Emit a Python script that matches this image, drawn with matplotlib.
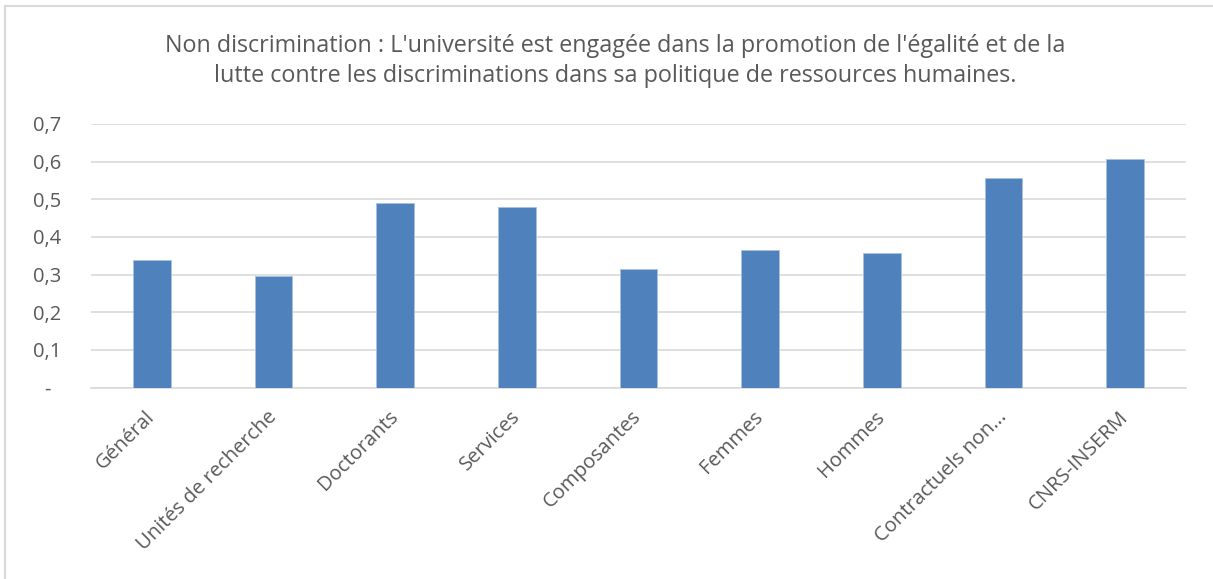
import matplotlib
matplotlib.use('Agg')
import matplotlib.pyplot as plt
from matplotlib.lines import Line2D
from matplotlib.transforms import ScaledTranslation
import numpy as np

plt.rcParams['font.family'] = ['Open Sans', 'DejaVu Sans']

categories = ['Général', 'Unités de recherche', 'Doctorants', 'Services', 'Composantes',
              'Femmes', 'Hommes', 'Contractuels non...', 'CNRS-INSERM']
values = [0.340, 0.296, 0.491, 0.480, 0.315, 0.366, 0.358, 0.557, 0.608]
yticks = [0, 0.1, 0.2, 0.3, 0.4, 0.5, 0.6, 0.7]
ytick_labels = ['-', '0,1', '0,2', '0,3', '0,4', '0,5', '0,6', '0,7']
title = ("Non discrimination : L'université est engagée dans la promotion de l'égalité et de la\n"
         "lutte contre les discriminations dans sa politique de ressources humaines.")

txt = '#595959'
fig = plt.figure(figsize=(12.13, 5.79), dpi=100)
ax = fig.add_axes([91 / 1213, 1 - 387.5 / 579, (1186 - 91) / 1213, (387.5 - 124) / 579])

x = np.arange(len(categories))
ax.bar(x, values, width=0.31, color='#4f81bd', edgecolor='#a9c1e0', linewidth=0.6, zorder=3)

ax.set_xlim(-0.5, len(categories) - 0.5)
ax.set_ylim(0, 0.7)
ax.set_yticks(yticks)
ax.set_yticklabels(ytick_labels)
ax.yaxis.grid(True, color='#d9d9d9', linewidth=1.2, zorder=0)
ax.set_xticks(x)
ax.set_xticklabels(categories, rotation=45, ha='right', rotation_mode='anchor')
for s in ['top', 'right', 'left']:
    ax.spines[s].set_visible(False)
ax.spines['bottom'].set_color('#d9d9d9')
ax.spines['bottom'].set_linewidth(1.2)
ax.tick_params(axis='both', length=0, colors=txt, labelsize=14.5)
ax.tick_params(axis='y', pad=31.5)
ax.tick_params(axis='x', pad=14)
for lab in ax.get_yticklabels():
    lab.set_horizontalalignment('center')
# nudge the slanted labels left so they end near the bar centre
shift = ScaledTranslation(-7 / 100, 0, fig.dpi_scale_trans)
for lab in ax.get_xticklabels():
    lab.set_transform(lab.get_transform() + shift)

fig.text(615 / 1213, 1 - 61 / 579, title, ha='center', va='center', fontsize=16.8,
         color=txt, linespacing=1.3)

# chart area border (only top and left visible in the crop)
fig.add_artist(Line2D([5 / 1213, 5 / 1213], [0, 1 - 6 / 579], color='#d9d9d9', linewidth=1.5))
fig.add_artist(Line2D([5 / 1213, 1], [1 - 6 / 579, 1 - 6 / 579], color='#d9d9d9', linewidth=1.5))

fig.savefig('out.png', dpi=100)
